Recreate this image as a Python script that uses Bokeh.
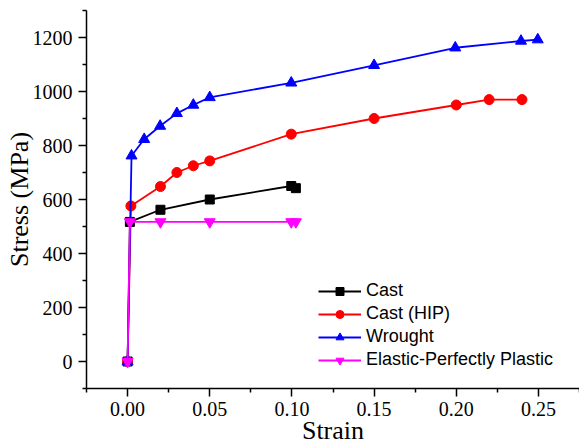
from bokeh.plotting import figure
from bokeh.models import (Range1d, FixedTicker, PrintfTickFormatter, Legend, LegendItem)
from bokeh.embed import file_html
from bokeh.resources import INLINE

# Stress-strain curves (strain, stress in MPa)
cast_strain = [0.0, 0.0014, 0.02, 0.05, 0.0996, 0.1024]
cast_stress = [0, 517, 562, 600, 650, 642]

hip_strain = [0.0, 0.002, 0.02, 0.03, 0.04, 0.05, 0.0996, 0.15, 0.20, 0.22, 0.24]
hip_stress = [0, 576, 648, 700, 725, 743, 842, 900, 950, 970, 970]

wrought_strain = [0.0, 0.0024, 0.0101, 0.0198, 0.030, 0.040, 0.050, 0.0996, 0.15, 0.1994, 0.2394, 0.2496]
wrought_stress = [0, 762, 823, 872, 919, 950, 978, 1032, 1097, 1162, 1187, 1192]

epp_strain = [0.0, 0.0014, 0.02, 0.05, 0.0996, 0.1024]
epp_stress = [0, 517, 517, 517, 517, 517]

x_ticks = [0.0, 0.05, 0.10, 0.15, 0.20, 0.25]
x_minor = [-0.025, 0.025, 0.075, 0.125, 0.175, 0.225, 0.275]
y_ticks = [0, 200, 400, 600, 800, 1000, 1200]
y_minor = [-100, 100, 300, 500, 700, 900, 1100, 1300]

p = figure(width=579, height=447, output_backend="svg", toolbar_location=None,
           x_range=Range1d(-0.025, 0.275), y_range=Range1d(-100, 1300),
           min_border_left=86, min_border_right=0, min_border_top=10,
           min_border_bottom=59)
p.outline_line_color = None
p.grid.visible = False
p.background_fill_color = "white"
p.border_fill_color = "white"

p.xaxis.ticker = FixedTicker(ticks=x_ticks, minor_ticks=x_minor)
p.xaxis.formatter = PrintfTickFormatter(format="%.2f")
p.yaxis.ticker = FixedTicker(ticks=y_ticks, minor_ticks=y_minor)

for ax in (p.xaxis[0], p.yaxis[0]):
    ax.axis_line_width = 1.5
    ax.major_tick_line_width = 1.5
    ax.minor_tick_line_width = 1.5
    ax.major_tick_out = 8
    ax.major_tick_in = 0
    ax.minor_tick_out = 4
    ax.minor_tick_in = 0
    ax.major_label_text_font = "Liberation Serif"
    ax.major_label_text_font_size = "20px"
    ax.major_label_text_color = "black"
    ax.axis_label_text_font = "Liberation Serif"
    ax.axis_label_text_font_size = "26px"
    ax.axis_label_text_font_style = "normal"
    ax.axis_label_text_color = "black"

p.xaxis.axis_label = "Strain"
p.yaxis.axis_label = "Stress (MPa)"
p.xaxis.major_label_standoff = 5
p.yaxis.major_label_standoff = 6
p.xaxis.axis_label_standoff = -3
p.yaxis.axis_label_standoff = -4

series = [
    ("Cast", cast_strain, cast_stress, "black", "square", 9),
    ("Cast (HIP)", hip_strain, hip_stress, "red", "circle", 10),
    ("Wrought", wrought_strain, wrought_stress, "blue", "triangle", 11),
    ("Elastic-Perfectly Plastic", epp_strain, epp_stress, "magenta", "inverted_triangle", 11),
]

items = []
for name, xs, ys, color, marker, size in series:
    ln = p.line(xs, ys, line_color=color, line_width=1.8)
    sc = p.scatter(xs, ys, marker=marker, size=size, fill_color=color,
                   line_color=color)
    items.append(LegendItem(label=name, renderers=[ln, sc]))

legend = Legend(items=items, location=(232, 18))
legend.border_line_color = None
legend.background_fill_alpha = 0
legend.padding = 0
legend.margin = 0
legend.spacing = 2
legend.glyph_width = 43
legend.glyph_height = 20
legend.label_height = 20
legend.label_standoff = 5
legend.label_text_font = "Liberation Sans"
legend.label_text_font_size = "18px"
legend.label_text_color = "black"
p.add_layout(legend, "center")

open("out.html", "w").write(file_html(p, INLINE))
